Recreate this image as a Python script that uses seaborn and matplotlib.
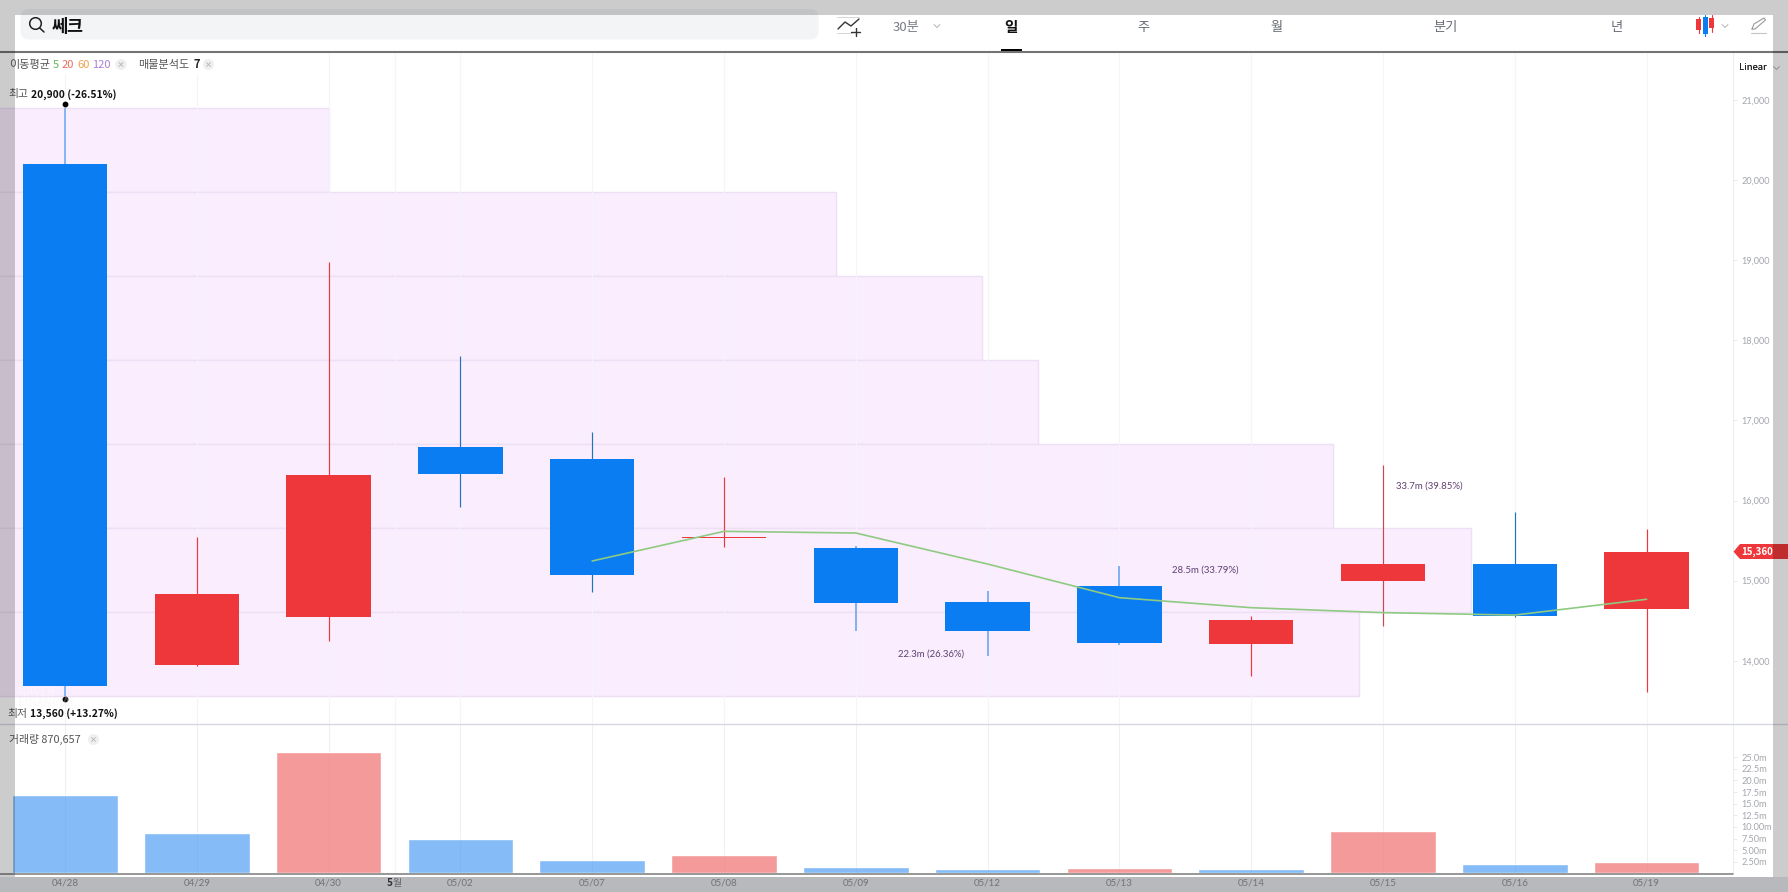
"""
Recreate a Korean stock chart screen: daily candles, moving average,
price-volume profile and a volume panel.
"""

import matplotlib.pyplot as plt
import pandas as pd
import seaborn as sns
from matplotlib.patches import Circle, FancyBboxPatch, Polygon, Rectangle
from matplotlib.transforms import offset_copy

DATES = ["04/28", "04/29", "04/30", "05/02", "05/07", "05/08", "05/09",
         "05/12", "05/13", "05/14", "05/15", "05/16", "05/19"]
BODY_TOP = [20207, 14833, 16320, 16667, 16518, 15550, 15407,
            14729, 14929, 14508, 15207, 15207, 15360]
BODY_BOTTOM = [13680, 13950, 14547, 16330, 15070, 15530, 14720,
               14371, 14217, 14208, 14999, 14558, 14649]
HIGHS = [20900, 15544, 18980, 17803, 16855, 16293, 15432,
         14870, 15186, 14554, 16443, 15852, 15640]
LOWS = [13560, 13940, 14250, 15923, 14861, 15416, 14375,
        14058, 14196, 13809, 14430, 14550, 13613]
DIRECTION = ["down", "up", "up", "down", "down", "up", "down",
             "down", "down", "up", "up", "down", "up"]
VOLUME_M = [16.9, 8.7, 26.2, 7.4, 2.9, 4.0, 1.4, 0.9, 1.2, 1.0, 9.2, 2.0, 2.4]
VOLUME_DIRECTION = ["down", "down", "up", "down", "down", "up", "down",
                    "down", "up", "down", "up", "down", "up"]

MA5_POSITIONS = [4, 5, 6, 7, 8, 9, 10, 11, 12]
MA5_VALUES = [15245, 15615, 15594, 15207, 14787, 14662, 14600, 14570, 14767]

PROFILE_EDGES = [20900, 19851, 18803, 17754, 16706, 15657, 14609, 13560]
PROFILE_REACH = [2.0, 5.85, 6.955, 7.38, 9.62, 10.67, 9.815]

PRICE_TICKS = [14000, 15000, 16000, 17000, 18000, 19000, 20000, 21000]
VOLUME_TICKS = [2.5, 5, 7.5, 10, 12.5, 15, 17.5, 20, 22.5, 25]
VOLUME_LABELS = ["2.50m", "5.00m", "7.50m", "10.00m", "12.5m", "15.0m",
                 "17.5m", "20.0m", "22.5m", "25.0m"]

BLUE = "#0a7df2"
RED = "#ee373a"
PINK = "#faedfe"
PINK_EDGE = "#efdff5"
GRID = "#f5f5f9"
TICK_TEXT = "#a3a6ad"
BLUE_VOLUME = "#85bbf7"
RED_VOLUME = "#f59a9a"

# wicks land on pixel edges unevenly in the screenshot
DARK_WICKS = {3: "#2272bd", 4: "#2272bd", 10: "#c9474d", 11: "#2272bd"}
SOFT_WICKS = {0: "#85b5f5", 6: "#7fb2f0", 7: "#7fb2f0", 8: "#7fb2f0"}

WIDTH = 1788
HEIGHT = 892
AXES_RIGHT = 1733
PRICE_TOP = 52
PANEL_SPLIT = 724
VOLUME_BOTTOM = 873.3


def axes_box(top, bottom):
    """Axes rectangle in figure fractions from pixel rows."""
    return [0, 1 - bottom / HEIGHT, AXES_RIGHT / WIDTH, (bottom - top) / HEIGHT]


def ui_text(ax, x, y, text, size=8, color="#333333", weight="normal", ha="left"):
    ax.text(x, y, text, fontsize=size, color=color, fontweight=weight,
            ha=ha, va="center")


def chevron(ax, x, y):
    ax.plot([x - 3, x, x + 3], [y - 1.5, y + 1.5, y - 1.5], color="#a8a8a8", lw=0.6)


def close_button(ax, x, y):
    ax.add_patch(Circle((x, y), 5.5, color="#efefef", lw=0))
    ax.plot([x - 2, x + 2], [y - 2, y + 2], color="#b5b5b5", lw=0.6)
    ax.plot([x - 2, x + 2], [y + 2, y - 2], color="#b5b5b5", lw=0.6)


def draw_price_panel(ax, positions):
    for i in range(len(PROFILE_REACH)):
        ax.barh((PROFILE_EDGES[i] + PROFILE_EDGES[i + 1]) / 2,
                PROFILE_REACH[i] + 1, left=-1,
                height=PROFILE_EDGES[i] - PROFILE_EDGES[i + 1],
                color=PINK, edgecolor=PINK_EDGE, linewidth=1.0, zorder=1)

    ax.vlines(positions + [2.505], 13000, 22000, color=GRID, lw=0.8, zorder=2)

    for i, pos in enumerate(positions):
        up = DIRECTION[i] == "up"
        wick_color = RED if up else BLUE
        wick_width = 0.85
        if i in DARK_WICKS:
            wick_color = DARK_WICKS[i]
        if i in SOFT_WICKS:
            wick_color = SOFT_WICKS[i]
            wick_width = 1.4
        ax.vlines(pos, LOWS[i], HIGHS[i], color=wick_color, lw=wick_width, zorder=3)
        ax.bar(pos, max(BODY_TOP[i] - BODY_BOTTOM[i], 20), bottom=BODY_BOTTOM[i],
               width=0.64, color=RED if up else BLUE, linewidth=0, zorder=4)

    sns.lineplot(x=MA5_POSITIONS, y=MA5_VALUES, color="#8fca82", linewidth=1.2,
                 ax=ax, zorder=5, legend=False)

    fig = ax.figure
    above = offset_copy(ax.transData, fig=fig, y=3.5, units="dots")
    below = offset_copy(ax.transData, fig=fig, y=-3.5, units="dots")
    ax.plot(0, HIGHS[0], "o", color="black", ms=3.2, transform=above, zorder=6)
    ax.plot(0, LOWS[0], "o", color="black", ms=3.2, transform=below, zorder=6)

    for pos, band, label in [(6.57, 6, "22.3m (26.36%)"),
                             (8.65, 5, "28.5m (33.79%)"),
                             (10.35, 4, "33.7m (39.85%)")]:
        price = (PROFILE_EDGES[band] + PROFILE_EDGES[band + 1]) / 2
        ax.text(pos, price, label, fontsize=6.9, color="#5f4070", ha="center",
                va="center", zorder=6, fontfamily=["Lato", "Noto Sans CJK KR"])

    ax.set_xlim(-65 / 131.8, (AXES_RIGHT - 65) / 131.8)
    ax.set_ylim(13210, 21599)
    ax.set_xticks([])
    ax.yaxis.tick_right()
    ax.set_yticks(PRICE_TICKS)
    ax.set_yticklabels([f"{tick:,}" for tick in PRICE_TICKS])
    ax.tick_params(axis="y", length=3, width=0.6, color="#e4e6ec", pad=3,
                   labelsize=6.6, labelcolor=TICK_TEXT)
    ax.set_xlabel("")
    ax.set_ylabel("")


def draw_volume_panel(ax, positions):
    volume_frame = pd.DataFrame(
        {"position": positions, "volume": VOLUME_M, "direction": VOLUME_DIRECTION}
    )
    sns.barplot(data=volume_frame, x="position", y="volume", hue="direction",
                palette={"up": RED_VOLUME, "down": BLUE_VOLUME}, native_scale=True,
                dodge=False, width=0.80, saturation=1, legend=False, ax=ax, zorder=2)
    ax.vlines(positions + [2.505], 0, 40, color=GRID, lw=0.8, zorder=1)
    ax.vlines(positions, 0, 40, color="#000000", alpha=0.025, lw=0.8, zorder=3)

    ax.set_xlim(-65 / 131.8, (AXES_RIGHT - 65) / 131.8)
    ax.set_ylim(0, (VOLUME_BOTTOM - PANEL_SPLIT) / 4.64)
    ax.yaxis.tick_right()
    ax.set_yticks(VOLUME_TICKS)
    ax.set_yticklabels(VOLUME_LABELS)
    ax.tick_params(axis="y", length=3, width=0.6, color="#e4e6ec", pad=3,
                   labelsize=6.6, labelcolor=TICK_TEXT)
    ax.set_xticks(positions)
    ax.set_xticklabels(DATES)
    ax.tick_params(axis="x", length=0, pad=3.8, labelsize=7, labelcolor="#8e9094")
    ax.set_xlabel("")
    ax.set_ylabel("")


def draw_header(ax):
    ax.add_patch(FancyBboxPatch((24, 12.5), 791, 23.5,
                                boxstyle="round,pad=0,rounding_size=5",
                                mutation_aspect=1, facecolor="#f3f4f6", lw=5,
                                edgecolor="#f3f4f6"))
    ax.add_patch(Circle((35.5, 23.5), 5.8, fill=False, edgecolor="#222222", lw=1.1))
    ax.plot([39.5, 44], [27.8, 32], color="#222222", lw=1.1)
    ui_text(ax, 52, 26.5, "쎄크", size=12.5, color="#111111", weight="bold")

    # add-indicator icon
    ax.plot([837, 859], [16.5, 16.5], color="#d6d6d6", lw=0.7)
    ax.plot([837, 852], [32.5, 32.5], color="#d6d6d6", lw=0.7)
    ax.plot([838, 845, 851, 859], [29, 22, 26, 19], color="#333333", lw=1.0)
    ax.plot([851, 860], [32, 32], color="#333333", lw=1.0)
    ax.plot([855.5, 855.5], [28, 36], color="#333333", lw=1.0)

    ui_text(ax, 893, 27, "30분", size=9.5, color="#777b85")
    chevron(ax, 937, 26)
    ui_text(ax, 1011, 27, "일", size=10.5, color="#111111", weight="bold", ha="center")
    for x, label in [(1143, "주"), (1276, "월"), (1446, "분기"), (1617, "년")]:
        ui_text(ax, x, 27, label, size=9.5, color="#666a72", ha="center")

    # candle icon
    ax.add_patch(Rectangle((1696, 19), 5, 11, color=RED, lw=0))
    ax.plot([1698.5, 1698.5], [17, 33], color=RED, lw=0.8)
    ax.add_patch(Rectangle((1702.5, 17), 5, 17, color=BLUE, lw=0))
    ax.plot([1705, 1705], [15, 36], color=BLUE, lw=0.8)
    ax.add_patch(Rectangle((1709, 18), 5, 10, color=RED, lw=0))
    ax.plot([1711.5, 1711.5], [15, 32], color=RED, lw=0.8)
    chevron(ax, 1725, 26)

    # pen icon
    ax.plot([1752, 1754, 1764, 1765.5, 1755, 1752],
            [29, 24, 18, 20, 29, 29], color="#9a9a9a", lw=0.8)
    ax.plot([1751, 1766], [33, 33], color="#c4c4c4", lw=0.8)

    ax.plot([0, WIDTH], [51.7, 51.7], color="#747474", lw=1.5)
    ax.add_patch(Rectangle((1000.5, 48.5), 21, 3.5, color="black", lw=0))


def draw_labels(ax):
    ax.add_patch(Rectangle((15, 53), 205, 21, color="white", lw=0))
    ui_text(ax, 9, 65, "이동평균", size=8, color="#555555")
    ui_text(ax, 53, 65, "5", size=8, color="#5cb85c")
    ui_text(ax, 62, 65, "20", size=8, color="#ee6b60")
    ui_text(ax, 77, 65, "60", size=8, color="#f0a04b")
    ui_text(ax, 92, 65, "120", size=8, color="#a97fd8")
    close_button(ax, 121, 64.5)
    ui_text(ax, 138, 65, "매물분석도", size=8, color="#555555")
    ui_text(ax, 193, 65, "7", size=8, color="#222222", weight="bold")
    close_button(ax, 208.5, 64.5)

    ui_text(ax, 8, 94.5, "최고", size=7.8, color="#555555")
    ui_text(ax, 31, 94.5, "20,900 (-26.51%)", size=7.4, color="#111111", weight="bold")
    ui_text(ax, 7, 714, "최저", size=7.8, color="#555555")
    ui_text(ax, 30, 714, "13,560 (+13.27%)", size=7.4, color="#111111", weight="bold")
    ui_text(ax, 9, 739.5, "거래량 870,657", size=7.8, color="#555555")
    close_button(ax, 93.5, 739.5)

    ui_text(ax, 1739, 68, "Linear", size=6.8, color="#222222")
    ui_text(ax, 1739.2, 68, "Linear", size=6.8, color="#222222")
    chevron(ax, 1776.5, 68)

    ax.text(18, 693, "NAVER", fontsize=8, color="white", alpha=0.3,
            fontweight="bold", va="center")
    ax.text(18, 702.5, "FINANCIAL", fontsize=8, color="#f1f1f1", alpha=0.3,
            fontweight="bold", va="center")

    ui_text(ax, 387, 883, "5", size=7.2, color="#404040", weight="bold")
    ui_text(ax, 393, 883, "월", size=7.2, color="#7d7f83")

    # current price tag
    ax.add_patch(Polygon([(1733.5, 551.7), (1740, 544), (WIDTH, 544),
                          (WIDTH, 559), (1740, 559)], color=RED, lw=0))
    ui_text(ax, 1741, 551.7, "15,360", size=7, color="white", weight="bold")


def create_chart():
    sns.set_theme(style="white")
    plt.rcParams["font.family"] = ["Noto Sans CJK KR", "DejaVu Sans"]
    plt.rcParams["axes.unicode_minus"] = False

    fig = plt.figure(figsize=(WIDTH / 100, HEIGHT / 100), dpi=100, facecolor="white")
    positions = list(range(len(DATES)))

    backdrop = fig.add_axes([0, 0, 1, 1], zorder=0)
    backdrop.set_xlim(0, WIDTH)
    backdrop.set_ylim(HEIGHT, 0)
    backdrop.axis("off")
    backdrop.add_patch(Rectangle((0, 876.8), WIDTH, 20, color="#e6e8eb", lw=0))

    price_ax = fig.add_axes(axes_box(PRICE_TOP, PANEL_SPLIT), zorder=1)
    volume_ax = fig.add_axes(axes_box(PANEL_SPLIT, VOLUME_BOTTOM), zorder=1)
    draw_price_panel(price_ax, positions)
    draw_volume_panel(volume_ax, positions)

    for ax in (price_ax, volume_ax):
        for side, spine in ax.spines.items():
            spine.set_visible(side == "right")
            spine.set_color("#eceef2")
            spine.set_linewidth(0.8)
    for label in price_ax.get_yticklabels() + volume_ax.get_yticklabels() + volume_ax.get_xticklabels():
        label.set_fontfamily(["Lato", "Noto Sans CJK KR"])

    chrome = fig.add_axes([0, 0, 1, 1], zorder=2)
    chrome.set_xlim(0, WIDTH)
    chrome.set_ylim(HEIGHT, 0)
    chrome.axis("off")
    chrome.patch.set_alpha(0)
    chrome.plot([0, WIDTH], [PANEL_SPLIT, PANEL_SPLIT], color="#d6d7e2", lw=1.0)
    chrome.plot([0, AXES_RIGHT], [874, 874], color="#7a7a7a", lw=1.1)
    draw_header(chrome)
    draw_labels(chrome)

    # the screenshot's dimmed frame lies over everything
    frame = fig.add_axes([0, 0, 1, 1], zorder=3)
    frame.set_xlim(0, WIDTH)
    frame.set_ylim(HEIGHT, 0)
    frame.axis("off")
    frame.patch.set_alpha(0)
    for x, y, w, h in [(0, 0, WIDTH, 15), (0, 15, 15, 862),
                       (1773, 15, 15, 862), (0, 877, WIDTH, 15)]:
        frame.add_patch(Rectangle((x, y), w, h, color="black", alpha=0.2, lw=0))

    fig.savefig("out.png", dpi=100)


if __name__ == "__main__":
    create_chart()
